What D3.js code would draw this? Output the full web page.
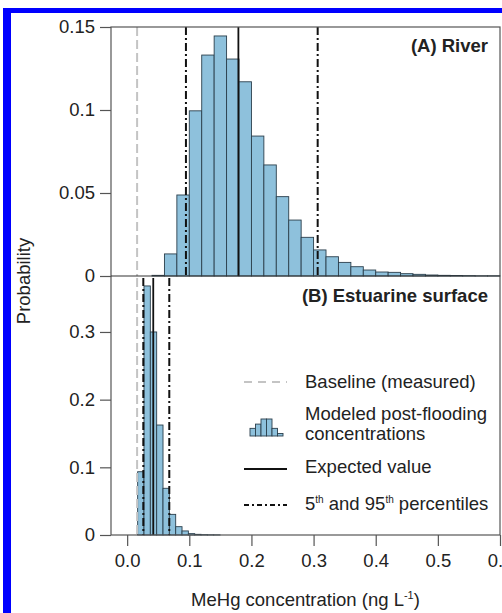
<!DOCTYPE html>
<html>
<head>
<meta charset="utf-8">
<script src="https://cdn.jsdelivr.net/npm/d3@7"></script>
<style>
  body { margin: 0; background: #fff; }
  svg { display: block; font-family: "Liberation Sans", Arial, Helvetica, sans-serif; }
</style>
</head>
<body>
<svg id="chart" width="502" height="613"></svg>
<script>
// (A) River: bin lower edges (ng/L) and probabilities
const riverBins = [0.04, 0.06, 0.08, 0.10, 0.12, 0.14, 0.16, 0.18, 0.20, 0.22, 0.24, 0.26, 0.28, 0.30,
  0.32, 0.34, 0.36, 0.38, 0.40, 0.42, 0.44, 0.46, 0.48, 0.50, 0.52, 0.54, 0.56, 0.58];
const riverProb = [0.0004, 0.0133, 0.0488, 0.0995, 0.1331, 0.1446, 0.1307, 0.117, 0.0843, 0.0669, 0.0478,
  0.0337, 0.0233, 0.0157, 0.0116, 0.0082, 0.0056, 0.0036, 0.0024, 0.0022, 0.0014, 0.001, 0.0006,
  0.0004, 0.0003, 0.0002, 0.0001, 0.0001];
const riverBinWidth = 0.02;
const riverLines = { baseline: 0.016, p5: 0.0946, expected: 0.179, p95: 0.3066 };

// (B) Estuarine surface
const estBins = [0.0169, 0.0271, 0.0373, 0.0475, 0.0577, 0.0679, 0.0781, 0.0883, 0.0985, 0.1087,
  0.1189, 0.1291, 0.1393];
const estProb = [0.0935, 0.368, 0.300, 0.1625, 0.069, 0.0305, 0.0123, 0.006, 0.002, 0.001,
  0.0005, 0.0003, 0.0002];
const estBinWidth = 0.0102;
const estLines = { baseline: 0.016, p5: 0.026, expected: 0.042, p95: 0.0678 };

const xTicks = [0, 0.1, 0.2, 0.3, 0.4, 0.5, 0.6];
const riverTicks = [0, 0.05, 0.1, 0.15];
const estTicks = [0, 0.1, 0.2, 0.3];
const legendIcon = [0.45, 0.7, 1, 1, 0.45, 0.15];

const svg = d3.select("#chart");
const fs = 18.5;
const mLeft = 111, mRight = 500, mTop = 27, mMid = 276, mBottom = 535;
const axisColor = "#555";
const fill = "#8ec1dc", barStroke = "#2b3f4c";

// blue border
svg.append("rect").attr("x", 3).attr("y", 8).attr("width", 499).attr("height", 5).attr("fill", "#0000ff");
svg.append("rect").attr("x", 3).attr("y", 8).attr("width", 8).attr("height", 605).attr("fill", "#0000ff");

const x = d3.scaleLinear().domain([-0.026, 0.6]).range([mLeft, mRight]);
const yA = d3.scaleLinear().domain([0, 0.15]).range([mMid, mTop]);
const yB = d3.scaleLinear().domain([0, 0.3827]).range([mBottom, mMid]);

function bars(bins, probs, w, y) {
  svg.append("g")
    .selectAll("rect")
    .data(bins)
    .join("rect")
    .attr("x", (d) => x(d))
    .attr("y", (d, i) => y(probs[i]))
    .attr("width", (d) => x(d + w) - x(d))
    .attr("height", (d, i) => y(0) - y(probs[i]))
    .attr("fill", fill)
    .attr("stroke", barStroke)
    .attr("stroke-width", 0.9);
}

function vlines(l, y1, y2) {
  const g = svg.append("g");
  g.append("line").attr("x1", x(l.baseline)).attr("x2", x(l.baseline)).attr("y1", y1).attr("y2", y2)
    .attr("stroke", "#c4c4c4").attr("stroke-width", 2).attr("stroke-dasharray", "9,4");
  [l.p5, l.p95].forEach((v) => {
    g.append("line").attr("x1", x(v)).attr("x2", x(v)).attr("y1", y1).attr("y2", y2)
      .attr("stroke", "#111").attr("stroke-width", 2).attr("stroke-dasharray", "8,3,2,3");
  });
  g.append("line").attr("x1", x(l.expected)).attr("x2", x(l.expected)).attr("y1", y1).attr("y2", y2)
    .attr("stroke", "#111").attr("stroke-width", 1.8);
}

bars(riverBins, riverProb, riverBinWidth, yA);
bars(estBins, estProb, estBinWidth, yB);
vlines(riverLines, mTop, mMid);
vlines(estLines, mMid + 2, mBottom);

// frame
svg.append("rect").attr("x", mLeft).attr("y", mTop).attr("width", mRight - mLeft).attr("height", mBottom - mTop)
  .attr("fill", "none").attr("stroke", axisColor).attr("stroke-width", 1.2);
svg.append("line").attr("x1", mLeft).attr("x2", mRight).attr("y1", mMid).attr("y2", mMid)
  .attr("stroke", "#333").attr("stroke-width", 1.2);

function styleAxis(g) {
  g.select(".domain").remove();
  g.selectAll(".tick line").attr("stroke", axisColor).attr("stroke-width", 1.2);
  g.selectAll(".tick text").attr("fill", "#222").attr("font-size", fs).attr("font-family", null);
}

svg.append("g").attr("transform", `translate(${mLeft},0)`)
  .call(d3.axisLeft(yA).tickValues(riverTicks).tickSize(11).tickPadding(5).tickFormat(d3.format("")))
  .call(styleAxis);
svg.append("g").attr("transform", `translate(${mLeft},0)`)
  .call(d3.axisLeft(yB).tickValues(estTicks).tickSize(11).tickPadding(5).tickFormat(d3.format("")))
  .call(styleAxis);
svg.append("g").attr("transform", `translate(0,${mBottom})`)
  .call(d3.axisBottom(x).tickValues(xTicks).tickSize(11).tickPadding(8).tickFormat(d3.format(".1f")))
  .call(styleAxis);

// titles
svg.append("text").attr("x", (mLeft + mRight) / 2).attr("y", 606).attr("text-anchor", "middle")
  .attr("font-size", fs).attr("fill", "#222")
  .html('MeHg concentration (ng L<tspan dy="-7" font-size="11">-1</tspan><tspan dy="7">)</tspan>');
svg.append("text").attr("transform", `translate(30,${(mTop + mBottom) / 2}) rotate(-90)`)
  .attr("text-anchor", "middle").attr("font-size", fs).attr("fill", "#222").text("Probability");

svg.append("text").attr("x", 488).attr("y", 52).attr("text-anchor", "end").attr("font-weight", "bold")
  .attr("font-size", fs).attr("fill", "#222").text("(A) River");
svg.append("text").attr("x", 488).attr("y", 302).attr("text-anchor", "end").attr("font-weight", "bold")
  .attr("font-size", fs).attr("fill", "#222").text("(B) Estuarine surface");

// legend
const lg = svg.append("g");
const lx1 = 244, lx2 = 287, tx = 305;
lg.append("line").attr("x1", lx1).attr("x2", lx2).attr("y1", 382).attr("y2", 382)
  .attr("stroke", "#c4c4c4").attr("stroke-width", 2).attr("stroke-dasharray", "8,6");
const iconX = d3.scaleBand().domain(d3.range(legendIcon.length)).range([250, 283]);
const iconY = d3.scaleLinear().domain([0, 1]).range([436, 419]);
lg.selectAll("rect.icon").data(legendIcon).join("rect").attr("class", "icon")
  .attr("x", (d, i) => iconX(i)).attr("width", iconX.bandwidth())
  .attr("y", (d) => iconY(d)).attr("height", (d) => iconY(0) - iconY(d))
  .attr("fill", fill).attr("stroke", barStroke).attr("stroke-width", 0.9);
lg.append("line").attr("x1", lx1).attr("x2", lx2).attr("y1", 469).attr("y2", 469)
  .attr("stroke", "#111").attr("stroke-width", 1.8);
lg.append("line").attr("x1", lx1).attr("x2", lx2).attr("y1", 505).attr("y2", 505)
  .attr("stroke", "#111").attr("stroke-width", 2).attr("stroke-dasharray", "5,3,2,3");

const legendText = [
  [388, "Baseline (measured)"],
  [420, "Modeled post-flooding"],
  [440, "concentrations"],
  [473, "Expected value"]
];
lg.selectAll("text.lt").data(legendText).join("text").attr("class", "lt")
  .attr("x", tx).attr("y", (d) => d[0]).attr("font-size", fs).attr("fill", "#222").text((d) => d[1]);
lg.append("text").attr("x", tx).attr("y", 510).attr("font-size", fs).attr("fill", "#222")
  .html('5<tspan dy="-7" font-size="10">th</tspan><tspan dy="7"> and 95</tspan><tspan dy="-7" font-size="10">th</tspan><tspan dy="7"> percentiles</tspan>');
</script>
</body>
</html>
